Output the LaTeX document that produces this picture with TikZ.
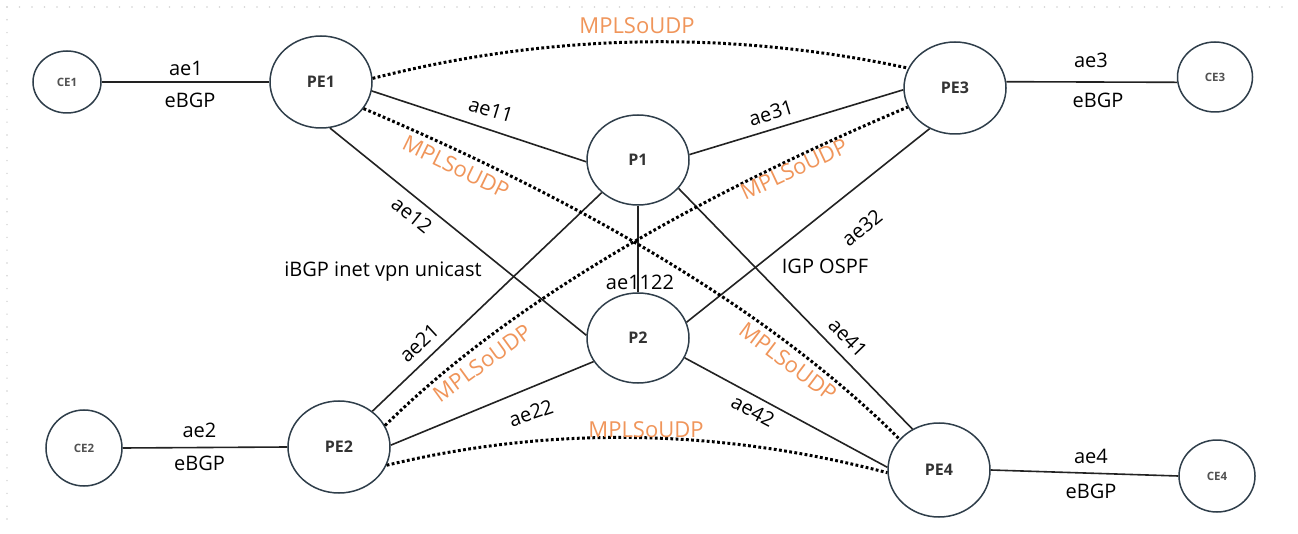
\documentclass[tikz,border=0pt]{standalone}
\usepackage{fontspec}
\setmainfont{Open Sans}
\usetikzlibrary{shapes.geometric}
\definecolor{nodeline}{HTML}{2F3E4A}
\definecolor{nodetext}{HTML}{333333}
\definecolor{linkcol}{HTML}{222222}
\definecolor{tunnel}{HTML}{F0955A}
\definecolor{griddot}{HTML}{D2D2D2}
\tikzset{
  router/.style={ellipse, draw=nodeline, line width=1.5pt, inner sep=0pt,
     minimum width=102pt, minimum height=92pt, text=nodetext,
     font=\fontsize{16}{18}\selectfont\bfseries},
  ce/.style={ellipse, draw=nodeline, line width=1.5pt, inner sep=0pt,
     minimum width=76pt, minimum height=72pt, text=nodetext!85,
     font=\fontsize{11.5}{13}\selectfont\bfseries},
  link/.style={draw=linkcol, line width=1.6pt},
  tun/.style={draw=black, line width=3pt, dash pattern=on 2.8pt off 2.4pt},
  lbl/.style={inner sep=0pt, text=black, font=\fontsize{20}{24}\selectfont},
  tlbl/.style={inner sep=0pt, text=tunnel, font=\fontsize{22}{26}\selectfont},
}
\begin{document}
\begin{tikzpicture}[x=1pt,y=-1pt]
\useasboundingbox (0,0) rectangle (1298,534);
\fill[white] (0,0) rectangle (1298,534);
% canvas dot grid edge
\draw[griddot, line width=1.6pt, line cap=round, dash pattern=on 0pt off 12.5pt] (7,7) -- (1294,7);
\draw[griddot, line width=1.6pt, line cap=round, dash pattern=on 0pt off 12.8pt] (7,7) -- (7,526);

% nodes
\node[ce, minimum width=68pt, minimum height=62pt] (CE1) at (67,82) {CE1};
\node[router] (PE1) at (321,82) {PE1};
\node[router, minimum height=90pt] (P1) at (638,160) {P1};
\node[router] (PE3) at (955,88) {PE3};
\node[ce, minimum width=75pt, minimum height=70pt] (CE3) at (1215,77) {CE3};
\node[router, minimum height=90pt] (P2) at (638,338) {P2};
\node[ce, minimum width=76pt, minimum height=76pt] (CE2) at (84,448) {CE2};
\node[router] (PE2) at (339,447) {PE2};
\node[router, minimum height=94pt] (PE4) at (939,470) {PE4};
\node[ce, minimum width=76pt, minimum height=72pt] (CE4) at (1217,476) {CE4};

% solid links
\draw[link] (CE1.east) -- (PE1.west);
\draw[link] (PE3.7) -- (CE3.188);
\draw[link] (CE2.east) -- (PE2.west);
\draw[link] (PE4.east) -- (CE4.west);
\draw[link] (PE1.-10) -- (P1.182);
\draw[link] (PE1.-79) -- (P2.177);
\draw[link] (P1.6) -- (PE3.182);
\draw[link] (P1.south) -- (P2.north);
\draw[link] (P1.-35) -- (PE4.123);
\draw[link] (P1.222) -- (PE2.47);
\draw[link] (P2.18) -- (PE3.238);
\draw[link] (P2.208) -- (PE2.2);
\draw[link] (P2.-23) -- (PE4.177);

% MPLSoUDP tunnels
\draw[tun] (PE1.4) .. controls (551,33) and (729,30) .. (PE3.157);
\draw[tun] (PE1.-32) .. controls (600,209) and (779,319) .. (PE4.142);
\draw[tun] (PE2.25) .. controls (500,312) and (674,206) .. (PE3.202);
\draw[tun] (PE2.-21) .. controls (549,426) and (716,428) .. (PE4.183);

% link labels
\node[lbl] (l1a) at (186,68) {ae1};
\node[lbl] (l1b) at (190,100.5) {eBGP};
\node[lbl] (l3a) at (1091,60) {ae3};
\node[lbl] (l3b) at (1098,100.5) {eBGP};
\node[lbl] (l2a) at (199.5,430.5) {ae2};
\node[lbl] (l2b) at (199.5,463.5) {eBGP};
\node[lbl] (l4a) at (1091,456) {ae4};
\node[lbl] (l4b) at (1091,491.5) {eBGP};
\node[lbl, rotate=-17] (l11) at (491,110) {ae11};
\node[lbl, rotate=17] (l31) at (771,113) {ae31};
\node[lbl, rotate=-39] (l12) at (412,215) {ae12};
\node[lbl, rotate=43] (l21) at (419,343) {ae21};
\node[lbl, rotate=39] (l32) at (862,228) {ae32};
\node[lbl, rotate=-46] (l41) at (848,338) {ae41};
\node[lbl, rotate=19] (l22) at (531,413) {ae22};
\node[lbl, rotate=-28] (l42) at (753,411) {ae42};
\node[lbl] (l1122) at (640,282) {ae1122};
\node[lbl] (ibgp) at (383,272) {iBGP inet vpn unicast};
\node[lbl] (igp) at (825,266) {IGP OSPF};

% tunnel labels
\node[tlbl] (t13) at (637,26) {MPLSoUDP};
\node[tlbl] (t24) at (646,430) {MPLSoUDP};
\node[tlbl, rotate=-26] (t14) at (456,167) {MPLSoUDP};
\node[tlbl, rotate=25] (t23) at (794,169) {MPLSoUDP};
\node[tlbl, rotate=36] (t32) at (482,363) {MPLSoUDP};
\node[tlbl, rotate=-37] (t41) at (788,362) {MPLSoUDP};
\end{tikzpicture}
\end{document}
